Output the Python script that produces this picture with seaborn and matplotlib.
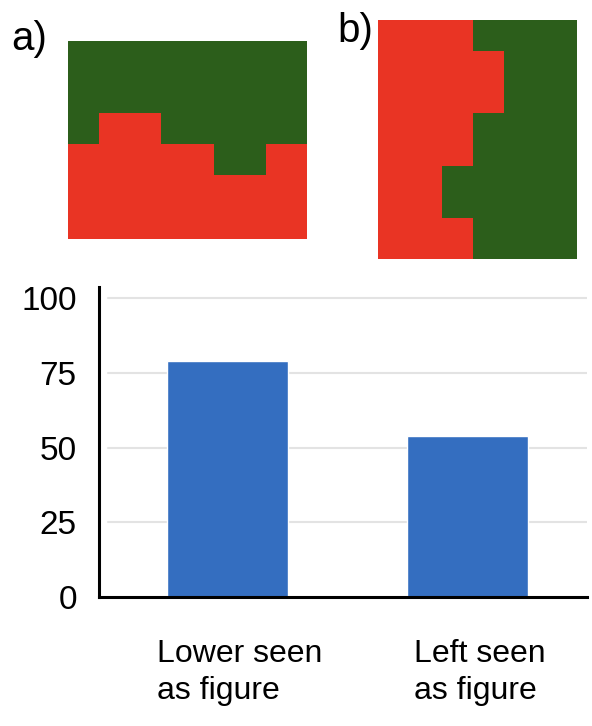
import numpy as np
import pandas as pd
import seaborn as sns
import matplotlib.pyplot as plt
from matplotlib.transforms import ScaledTranslation

# step pattern used by both ambiguous figure panels
step_edges = [0, 31, 93, 146, 198, 239]
red_depth = [95, 126, 95, 64, 95]
total_depth = 198

categories = ["Lower seen\nas figure", "Left seen\nas figure"]
percent = [79, 54]
y_ticks = [0, 25, 50, 75, 100]

GREEN = "#2c5e1b"
RED = "#e93424"
BLUE = "#346ec0"

sns.set_theme(style="white")
plt.rcParams['font.family'] = ['Liberation Sans', 'DejaVu Sans']
plt.rcParams['text.color'] = 'black'

W, H = 592, 726
fig = plt.figure(figsize=(W / 100, H / 100), dpi=100)
fig.patch.set_facecolor("white")


def px_axes(x0, y0, x1, y1):
    return fig.add_axes([x0 / W, 1 - y1 / H, (x1 - x0) / W, (y1 - y0) / H])


# panel a: red lower region stepping into green
ax_a = px_axes(68, 41, 307, 239)
ax_a.stairs(red_depth, step_edges, baseline=0, fill=True, color=RED, lw=0)
ax_a.set_xlim(step_edges[0], step_edges[-1])
ax_a.set_ylim(0, total_depth)
ax_a.set_axis_off()
ax_a.add_patch(plt.Rectangle((0, 0), 1, 1, transform=ax_a.transAxes,
                             color=GREEN, zorder=-1))

# panel b: same pattern rotated, red on the left
ax_b = px_axes(378, 20, 577, 259)
ax_b.stairs(red_depth, step_edges, baseline=0, fill=True, color=RED, lw=0,
            orientation="horizontal")
ax_b.set_ylim(step_edges[-1], step_edges[0])
ax_b.set_xlim(0, total_depth + 1)
ax_b.set_axis_off()
ax_b.add_patch(plt.Rectangle((0, 0), 1, 1, transform=ax_b.transAxes,
                             color=GREEN, zorder=-1))

fig.text(11 / W, 1 - 50 / H, "a)", fontsize=29, color="black",
         ha="left", va="baseline")
fig.text(337 / W, 1 - 42 / H, "b)", fontsize=29, color="black",
         ha="left", va="baseline")

# bar chart
ax = px_axes(99, 287, 587, 597)
df = pd.DataFrame({"cat": categories, "pct": percent})
sns.barplot(data=df, x="cat", y="pct", ax=ax, color=BLUE, saturation=1,
            width=0.504, errorbar=None, zorder=2)
ax.set_xlim(-0.535, 1.498)
ax.set_ylim(0, 103.7)
ax.set_yticks(y_ticks)
ax.set_xlabel("")
ax.set_ylabel("")
for yv in y_ticks[1:]:
    ax.axhline(yv, xmin=0.018, xmax=1, color="#e3e3e3", lw=1.5, zorder=1)
for s in ["top", "right"]:
    ax.spines[s].set_visible(False)
for s in ["left", "bottom"]:
    ax.spines[s].set_color("black")
    ax.spines[s].set_linewidth(2.2)
ax.spines["bottom"].set_zorder(3)
ax.tick_params(axis="y", length=0, pad=16, labelsize=24, colors="black")
ax.tick_params(axis="x", length=0, pad=30, labelsize=23, colors="black")
shift = ScaledTranslation(12 / 100, 0, fig.dpi_scale_trans)
for lab in ax.get_xticklabels():
    lab.set_multialignment("left")
    lab.set_linespacing(1.3)
    lab.set_transform(lab.get_transform() + shift)

fig.savefig("out.png", dpi=100, facecolor="white")
